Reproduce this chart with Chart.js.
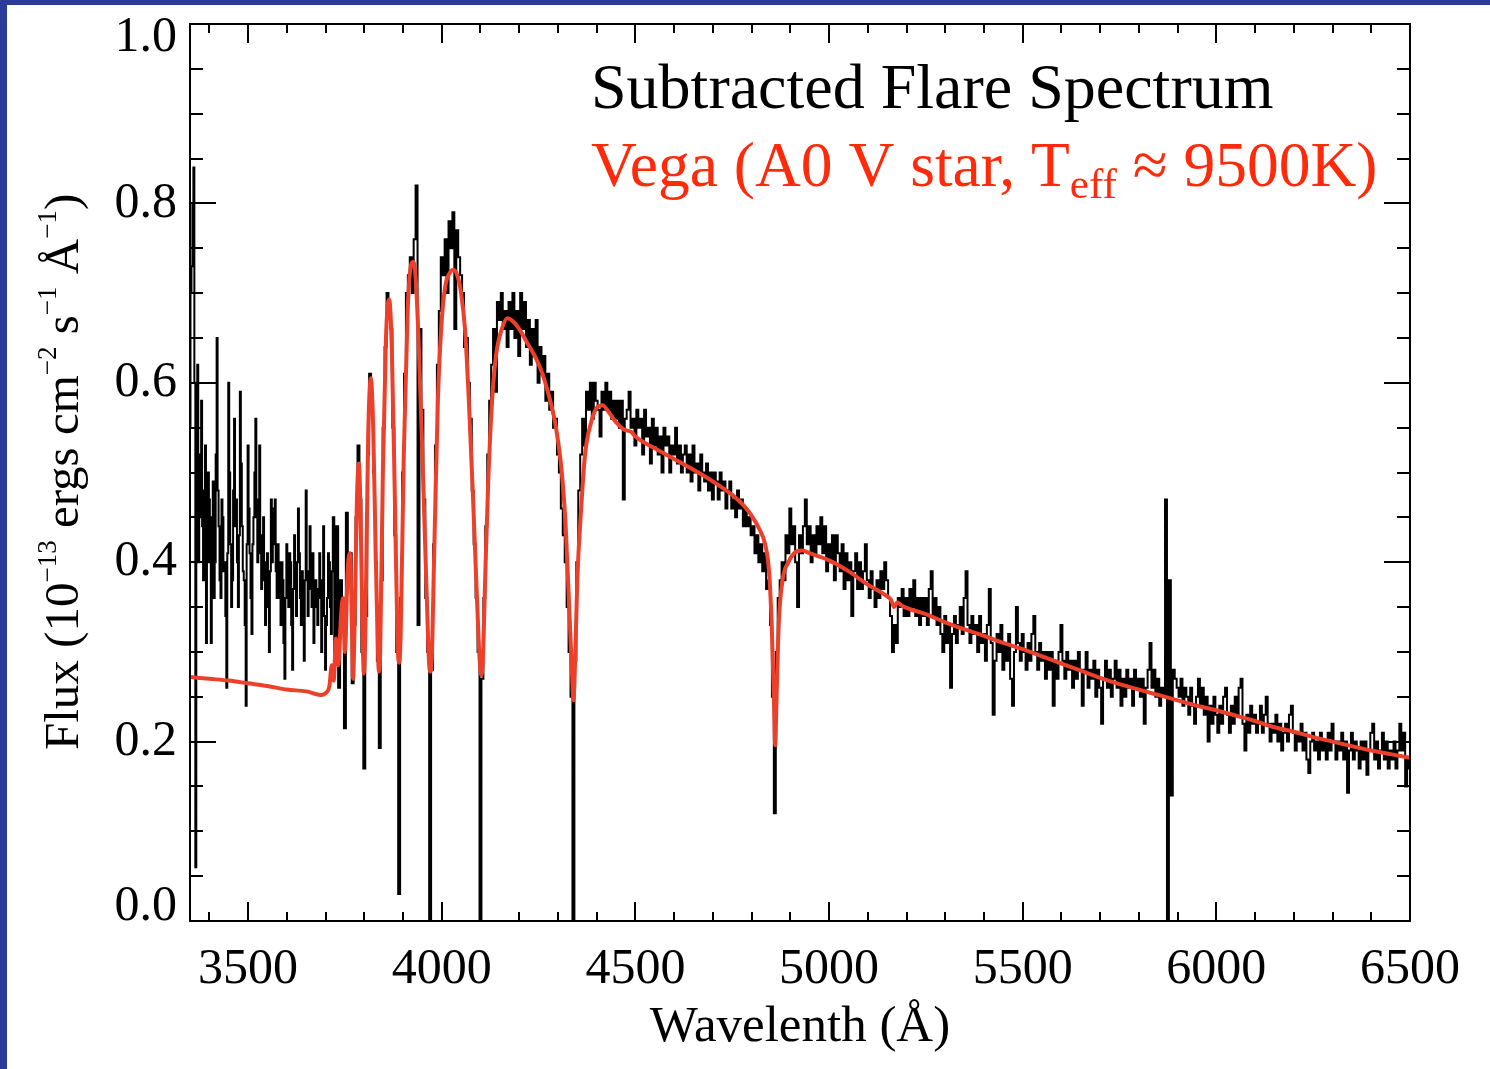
<!DOCTYPE html>
<html>
<head>
<meta charset="utf-8">
<title>Subtracted Flare Spectrum</title>
<script src="https://cdn.jsdelivr.net/npm/chart.js@4.4.1/dist/chart.umd.min.js"></script>
<style>
    html, body { margin: 0; padding: 0; background: #2c3a9a; }
    canvas { display: block; }
</style>
</head>
<body>
<canvas id="spectrumChart" width="1490" height="1069"></canvas>
<script>
'use strict'

// axis ticks
const xTickValues = [3500, 4000, 4500, 5000, 5500, 6000, 6500];
const yTickValues = [0.0, 0.2, 0.4, 0.6, 0.8, 1.0];

// subtracted flare spectrum, one array per stretch of wavelength
// (the noisy near-UV part is read at 2.5 A, the rest at 5 A)
const uvStart = 3350;
const uvStep = 2.5;
const uvFlux = [
    0.55, 0.70, 0.73, 0.80, 0.84, 0.60, 0.06, 0.50, 0.62, 0.40, // 3350
    0.45, 0.52, 0.58, 0.44, 0.38, 0.48, 0.53, 0.31, 0.40, 0.50, // 3375
    0.47, 0.40, 0.31, 0.45, 0.49, 0.36, 0.40, 0.52, 0.65, 0.48, // 3400
    0.44, 0.38, 0.36, 0.47, 0.45, 0.39, 0.40, 0.34, 0.26, 0.41, // 3425
    0.60, 0.50, 0.42, 0.35, 0.38, 0.48, 0.56, 0.44, 0.47, 0.40, // 3450
    0.35, 0.43, 0.59, 0.51, 0.44, 0.39, 0.38, 0.33, 0.24, 0.42, // 3475
    0.53, 0.46, 0.41, 0.36, 0.32, 0.42, 0.45, 0.50, 0.56, 0.45, // 3500
    0.40, 0.47, 0.53, 0.41, 0.37, 0.43, 0.45, 0.38, 0.33, 0.40, // 3525
    0.41, 0.35, 0.30, 0.39, 0.47, 0.40, 0.42, 0.46, 0.47, 0.39, // 3550
    0.36, 0.42, 0.40, 0.36, 0.33, 0.40, 0.38, 0.31, 0.27, 0.36, // 3575
    0.42, 0.39, 0.35, 0.41, 0.40, 0.33, 0.28, 0.37, 0.43, 0.38, // 3600
    0.34, 0.40, 0.46, 0.41, 0.36, 0.33, 0.39, 0.35, 0.29, 0.38, // 3625
    0.48, 0.39, 0.34, 0.37, 0.44, 0.40, 0.35, 0.41, 0.31, 0.36, // 3650
    0.38, 0.35, 0.33, 0.37, 0.41, 0.36, 0.30, 0.38, 0.44, 0.34, // 3675
    0.28, 0.33, 0.36, 0.41, 0.40, 0.35, 0.32, 0.39              // 3700
];

const binWidth = 5;

const balmerStart = 3720;
const balmerFlux = [
    0.45, 0.30, 0.44, 0.26, 0.38, 0.34, 0.215, 0.455, 0.40, 0.41, // 3720
    0.265, 0.33, 0.45, 0.53, 0.47, 0.30, 0.17, 0.34, 0.52, 0.61,  // 3770
    0.58, 0.50, 0.40, 0.29, 0.193, 0.38, 0.55, 0.64, 0.70, 0.68,  // 3820
    0.66, 0.55, 0.43, 0.30, 0.03, 0.36, 0.50, 0.61, 0.70, 0.72,   // 3870
    0.74, 0.70, 0.76, 0.82, 0.33, 0.66, 0.57, 0.47, 0.36, 0.30,   // 3920
    0.0, 0.28, 0.42, 0.53, 0.62, 0.68, 0.74, 0.72, 0.76, 0.70,    // 3970
    0.78, 0.75, 0.79, 0.66, 0.77, 0.74, 0.72, 0.70, 0.64, 0.65,   // 4020
    0.60, 0.56, 0.48, 0.42, 0.36, 0.30, 0.0, 0.27, 0.36, 0.44     // 4070
];

const blueStart = 4120;
const blueFlux = [
    0.52, 0.58, 0.62, 0.66, 0.59, 0.69, 0.67, 0.70, 0.66, 0.68, // 4120
    0.64, 0.69, 0.66, 0.70, 0.65, 0.68, 0.63, 0.70, 0.66, 0.69, // 4170
    0.64, 0.67, 0.62, 0.66, 0.63, 0.67, 0.60, 0.64, 0.61, 0.63, // 4220
    0.58, 0.61, 0.57, 0.59, 0.55, 0.56, 0.52, 0.50, 0.46, 0.43, // 4270
    0.40, 0.35, 0.30, 0.25, 0.0, 0.29, 0.40, 0.48, 0.52, 0.56,  // 4320
    0.53, 0.59, 0.57, 0.60, 0.56, 0.60, 0.58, 0.57, 0.54, 0.59, // 4370
    0.57, 0.60, 0.57, 0.59, 0.56, 0.58, 0.56, 0.58, 0.55, 0.58, // 4420
    0.47, 0.56, 0.57, 0.59, 0.55, 0.56, 0.53, 0.57, 0.55, 0.56, // 4470
    0.52, 0.57, 0.54, 0.55, 0.51, 0.56, 0.53, 0.55, 0.52, 0.54, // 4520
    0.50, 0.55, 0.53, 0.54, 0.50, 0.53, 0.52, 0.55, 0.51, 0.53, // 4570
    0.50, 0.52, 0.53, 0.50, 0.52, 0.49, 0.53, 0.50, 0.51, 0.48, // 4620
    0.52, 0.50, 0.49, 0.51, 0.48, 0.50, 0.47, 0.50, 0.49, 0.47, // 4670
    0.50, 0.48, 0.49, 0.46, 0.48, 0.49, 0.46, 0.47, 0.45, 0.48, // 4720
    0.46, 0.47, 0.44, 0.46, 0.44, 0.45, 0.43, 0.44, 0.41, 0.43, // 4770
    0.40, 0.42, 0.39, 0.41, 0.37, 0.38, 0.33, 0.25, 0.12, 0.30, // 4820
    0.36, 0.38                                                  // 4870
];

const redStart = 4880;
const redFlux = [
    0.40, 0.38, 0.43, 0.41, 0.46, 0.42, 0.44, 0.40, 0.35, 0.43, // 4880
    0.41, 0.44, 0.47, 0.42, 0.44, 0.40, 0.43, 0.41, 0.44, 0.42, // 4930
    0.45, 0.41, 0.44, 0.39, 0.42, 0.40, 0.43, 0.38, 0.43, 0.41, // 4980
    0.39, 0.42, 0.37, 0.41, 0.38, 0.40, 0.34, 0.39, 0.41, 0.37, // 5030
    0.40, 0.37, 0.39, 0.42, 0.38, 0.36, 0.39, 0.37, 0.35, 0.38, // 5080
    0.36, 0.39, 0.37, 0.40, 0.38, 0.36, 0.34, 0.30, 0.33, 0.31, // 5130
    0.36, 0.35, 0.37, 0.34, 0.36, 0.34, 0.37, 0.35, 0.38, 0.34, // 5180
    0.36, 0.33, 0.36, 0.34, 0.36, 0.33, 0.37, 0.39, 0.34, 0.36, // 5230
    0.33, 0.35, 0.32, 0.30, 0.34, 0.31, 0.33, 0.26, 0.32, 0.34, // 5280
    0.31, 0.33, 0.35, 0.32, 0.36, 0.39, 0.33, 0.31, 0.34, 0.32, // 5330
    0.33, 0.30, 0.34, 0.31, 0.32, 0.29, 0.33, 0.37, 0.31, 0.23, // 5380
    0.29, 0.32, 0.30, 0.33, 0.28, 0.31, 0.29, 0.32, 0.27, 0.24, // 5430
    0.30, 0.35, 0.31, 0.29, 0.32, 0.30, 0.28, 0.31, 0.29, 0.32, // 5480
    0.34, 0.30, 0.28, 0.31, 0.29, 0.30, 0.27, 0.30, 0.28, 0.30, // 5530
    0.24, 0.29, 0.27, 0.30, 0.33, 0.29, 0.27, 0.30, 0.28, 0.29, // 5580
    0.26, 0.29, 0.27, 0.30, 0.28, 0.24, 0.28, 0.30, 0.26, 0.28, // 5630
    0.27, 0.29, 0.25, 0.28, 0.26, 0.22, 0.27, 0.29, 0.26, 0.28, // 5680
    0.25, 0.27, 0.29, 0.26, 0.28, 0.24, 0.27, 0.25, 0.28, 0.26, // 5730
    0.27, 0.24, 0.28, 0.26, 0.27, 0.25, 0.27, 0.22, 0.26, 0.28, // 5780
    0.31, 0.26, 0.28, 0.25, 0.27, 0.24, 0.26, 0.25, 0.47, 0.0,  // 5830
    0.38, 0.14, 0.28, 0.27, 0.26, 0.25, 0.27, 0.24, 0.26, 0.25, // 5880
    0.23, 0.26, 0.24, 0.22, 0.25, 0.27, 0.24, 0.26, 0.23, 0.25, // 5930
    0.20, 0.24, 0.22, 0.25, 0.23, 0.21, 0.24, 0.22, 0.25, 0.26, // 5980
    0.23, 0.21, 0.24, 0.22, 0.25, 0.23, 0.26, 0.27, 0.22, 0.19, // 6030
    0.23, 0.21, 0.24, 0.22, 0.23, 0.21, 0.22, 0.24, 0.21, 0.23, // 6080
    0.25, 0.22, 0.20, 0.22, 0.21, 0.23, 0.20, 0.22, 0.19, 0.21, // 6130
    0.22, 0.20, 0.23, 0.24, 0.21, 0.19, 0.21, 0.20, 0.22, 0.19, // 6180
    0.21, 0.18, 0.165, 0.20, 0.21, 0.19, 0.20, 0.18, 0.21, 0.19,// 6230
    0.20, 0.18, 0.21, 0.19, 0.22, 0.20, 0.18, 0.20, 0.19, 0.21, // 6280
    0.18, 0.20, 0.143, 0.19, 0.21, 0.18, 0.20, 0.19, 0.17, 0.20,// 6330
    0.18, 0.20, 0.163, 0.19, 0.21, 0.22, 0.18, 0.20, 0.17, 0.19,// 6380
    0.21, 0.18, 0.20, 0.17, 0.19, 0.18, 0.20, 0.17, 0.19, 0.22, // 6430
    0.19, 0.21, 0.15, 0.18, 0.17                                // 6480
];

// Vega model (A0 V)
const modelWave = [
    3350, 3400, 3450, 3500, 3550, 3600, 3650, 3690, 3700, 3710,
    3716, 3721, 3727, 3733, 3740, 3745, 3750, 3757, 3763, 3768,
    3771, 3775, 3781, 3786, 3791, 3796, 3799, 3803, 3810, 3817,
    3823, 3830, 3836, 3838, 3841, 3848, 3856, 3864, 3871, 3879,
    3886, 3890, 3894, 3902, 3912, 3920, 3926, 3932, 3940, 3950,
    3960, 3967, 3970, 3974, 3980, 3990, 4000, 4010, 4020, 4030,
    4040, 4050, 4060, 4070, 4080, 4090, 4098, 4102, 4106, 4112,
    4120, 4130, 4140, 4155, 4170, 4185, 4200, 4220, 4240, 4260,
    4280, 4295, 4310, 4320, 4330, 4337, 4340, 4343, 4350, 4360,
    4370, 4385, 4400, 4415, 4430, 4450, 4470, 4490, 4500, 4550,
    4600, 4650, 4700, 4750, 4780, 4800, 4820, 4835, 4845, 4852,
    4858, 4861, 4864, 4870, 4880, 4895, 4910, 4930, 4950, 5000,
    5050, 5100, 5150, 5160, 5168, 5176, 5190, 5250, 5300, 5350,
    5400, 5450, 5500, 5550, 5600, 5650, 5700, 5750, 5800, 5850,
    5900, 5950, 6000, 6050, 6100, 6150, 6200, 6250, 6300, 6350,
    6400, 6450, 6500
];
const modelFlux = [
    0.272, 0.270, 0.268, 0.265, 0.262, 0.258, 0.256, 0.252, 0.254, 0.262,
    0.285, 0.268, 0.315, 0.285, 0.340, 0.360, 0.300, 0.390, 0.410, 0.330,
    0.270, 0.330, 0.470, 0.510, 0.440, 0.310, 0.276, 0.330, 0.540, 0.605,
    0.550, 0.400, 0.290, 0.278, 0.300, 0.500, 0.650, 0.693, 0.640, 0.470,
    0.310, 0.288, 0.320, 0.520, 0.680, 0.730, 0.735, 0.720, 0.650, 0.520,
    0.380, 0.290, 0.278, 0.290, 0.400, 0.580, 0.670, 0.710, 0.722, 0.726,
    0.720, 0.700, 0.660, 0.580, 0.480, 0.370, 0.290, 0.274, 0.290, 0.380,
    0.490, 0.580, 0.630, 0.660, 0.672, 0.668, 0.660, 0.645, 0.630, 0.610,
    0.580, 0.550, 0.500, 0.440, 0.340, 0.270, 0.246, 0.270, 0.380, 0.460,
    0.520, 0.555, 0.572, 0.575, 0.568, 0.556, 0.548, 0.545, 0.540, 0.527,
    0.515, 0.503, 0.490, 0.475, 0.463, 0.452, 0.437, 0.420, 0.390, 0.330,
    0.240, 0.196, 0.240, 0.330, 0.380, 0.400, 0.410, 0.413, 0.410, 0.402,
    0.390, 0.375, 0.362, 0.358, 0.350, 0.355, 0.351, 0.342, 0.333, 0.325,
    0.318, 0.310, 0.303, 0.295, 0.287, 0.279, 0.271, 0.264, 0.258, 0.252,
    0.246, 0.240, 0.235, 0.229, 0.223, 0.216, 0.211, 0.205, 0.200, 0.195,
    0.190, 0.186, 0.182
];

const serif = '"Liberation Serif", "Times New Roman", serif';
const textRed = '#ff2a0a';

// build the binned spectrum from the segments
function segmentPoints(start, step, values) {
    return values.map((v, i) => ({ x: start + i * step, y: v }));
}

const flarePoints = [
    ...segmentPoints(uvStart, uvStep, uvFlux),
    ...segmentPoints(balmerStart, binWidth, balmerFlux),
    ...segmentPoints(blueStart, binWidth, blueFlux),
    ...segmentPoints(redStart, binWidth, redFlux)
];

const modelPoints = modelWave.map((w, i) => ({ x: w, y: modelFlux[i] }));

// draw text made of runs (for super/subscripts)
function drawRuns(ctx, x, y, runs) {
    runs.forEach(run => {
        ctx.font = `${run.size}px ${serif}`;
        ctx.fillText(run.text, x, y + (run.dy || 0));
        x += ctx.measureText(run.text).width;
    });
}

const pageBackground = {
    id: 'pageBackground',
    beforeDraw(chart) {
        const ctx = chart.ctx;
        ctx.save();
        ctx.fillStyle = '#2c3a9a';
        ctx.fillRect(0, 0, chart.width, chart.height);
        ctx.fillStyle = '#ffffff';
        ctx.fillRect(7, 5, chart.width - 7, chart.height - 5);
        ctx.restore();
    }
};

// IDL style frame with inward ticks on all four sides
const frameAndTicks = {
    id: 'frameAndTicks',
    afterDatasetsDraw(chart) {
        const { ctx, chartArea: a, scales } = chart;
        const xs = scales.x, ys = scales.y;
        ctx.save();
        ctx.strokeStyle = '#000';
        ctx.lineWidth = 2;
        ctx.strokeRect(a.left, a.top, a.right - a.left, a.bottom - a.top);

        ctx.beginPath();
        for (let w = 3400; w <= 6500; w += 100) {
            const px = Math.round(xs.getPixelForValue(w));
            const len = (w % 500 === 0) ? 19 : 9;
            ctx.moveTo(px, a.bottom); ctx.lineTo(px, a.bottom - len);
            ctx.moveTo(px, a.top); ctx.lineTo(px, a.top + len);
        }
        for (let k = 1; k < 20; k++) {
            const f = k * 0.05;
            const py = Math.round(ys.getPixelForValue(f));
            const len = (k % 4 === 0) ? 26 : 13;
            ctx.moveTo(a.left, py); ctx.lineTo(a.left + len, py);
            ctx.moveTo(a.right, py); ctx.lineTo(a.right - len, py);
        }
        ctx.stroke();

        // y tick labels, end labels kept inside the frame
        ctx.fillStyle = '#000';
        ctx.font = `50px ${serif}`;
        ctx.textAlign = 'right';
        ctx.textBaseline = 'middle';
        yTickValues.forEach(v => {
            let py = ys.getPixelForValue(v);
            py = Math.min(Math.max(py, a.top + 14), a.bottom - 14);
            ctx.fillText(v.toFixed(1), a.left - 13, py);
        });

        // y axis title
        ctx.save();
        ctx.translate(78, 750);
        ctx.rotate(-Math.PI / 2);
        ctx.textAlign = 'left';
        ctx.textBaseline = 'alphabetic';
        drawRuns(ctx, 0, 0, [
            { text: 'Flux (10', size: 49 },
            { text: '\u221213', size: 27, dy: -22 },
            { text: ' ergs cm', size: 49 },
            { text: '\u22122', size: 27, dy: -22 },
            { text: ' s', size: 49 },
            { text: '\u22121', size: 27, dy: -22 },
            { text: ' \u00c5', size: 49 },
            { text: '\u22121', size: 27, dy: -22 },
            { text: ')', size: 49 }
        ]);
        ctx.restore();

        // annotations
        ctx.textAlign = 'left';
        ctx.textBaseline = 'alphabetic';
        ctx.fillStyle = '#000';
        drawRuns(ctx, 591, 108, [{ text: 'Subtracted Flare Spectrum', size: 64 }]);
        ctx.fillStyle = textRed;
        drawRuns(ctx, 591, 186, [
            { text: 'Vega (A0 V star, T', size: 63.5 },
            { text: 'eff', size: 43, dy: 12 },
            { text: ' \u2248 9500K)', size: 63.5 }
        ]);
        ctx.restore();
    }
};

const chartSpectrum = new Chart(document.getElementById('spectrumChart'), {
    type: 'line',
    data: {
        datasets: [
            {
                label: 'Vega (A0 V star)',
                data: modelPoints,
                borderColor: 'rgb(236,64,42)',
                borderWidth: 4,
                pointRadius: 0,
                cubicInterpolationMode: 'monotone',
                fill: false,
                order: 1
            },
            {
                label: 'Subtracted Flare Spectrum',
                data: flarePoints,
                borderColor: '#000000',
                borderWidth: 2,
                pointRadius: 0,
                stepped: 'middle',
                fill: false,
                order: 2
            }
        ]
    },
    options: {
        responsive: false,
        animation: false,
        events: [],
        layout: { padding: { top: 24, right: 80, left: 0, bottom: 0 } },
        plugins: {
            legend: { display: false },
            tooltip: { enabled: false }
        },
        scales: {
            x: {
                type: 'linear',
                min: 3350,
                max: 6500,
                afterBuildTicks: s => { s.ticks = xTickValues.map(v => ({ value: v })); },
                afterFit: s => { s.height = 148; s.paddingLeft = 0; s.paddingRight = 0; },
                grid: { display: false, drawTicks: false },
                border: { display: false },
                ticks: {
                    color: '#000',
                    font: { family: serif, size: 50 },
                    padding: 19,
                    maxRotation: 0,
                    autoSkip: false,
                    callback: v => String(v)
                },
                title: {
                    display: true,
                    text: 'Wavelenth (\u00c5)',
                    color: '#000',
                    font: { family: serif, size: 51 },
                    padding: { top: 0, bottom: 11 }
                }
            },
            y: {
                type: 'linear',
                min: 0,
                max: 1,
                afterBuildTicks: s => { s.ticks = yTickValues.map(v => ({ value: v })); },
                afterFit: s => { s.width = 190; s.paddingTop = 0; s.paddingBottom = 0; },
                grid: { display: false, drawTicks: false },
                border: { display: false },
                ticks: { display: false }
            }
        }
    },
    plugins: [pageBackground, frameAndTicks]
});
</script>
</body>
</html>
